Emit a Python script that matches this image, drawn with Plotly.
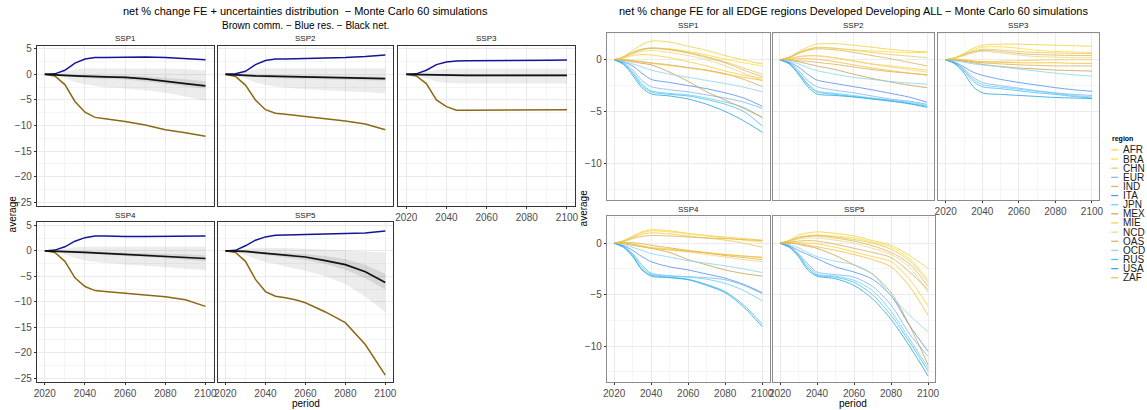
import plotly.graph_objects as go

# ---------------------------------------------------------------- data
W, H = 1147, 410

years_l = [2020, 2025, 2030, 2035, 2040, 2045, 2050, 2055, 2060, 2070, 2080, 2090, 2100]
scenarios = ["SSP1", "SSP2", "SSP3", "SSP4", "SSP5"]

# commercial (brown), residential (blue), net (black) % change in final energy
comm_ssp1 = [0, -0.3, -2.0, -5.3, -7.4, -8.4, -8.65, -8.9, -9.2, -9.9, -10.8, -11.4, -12.1]
res_ssp1 = [0, 0.1, 0.8, 2.2, 3.0, 3.3, 3.3, 3.35, 3.35, 3.4, 3.3, 3.1, 2.85]
net_ssp1 = [0, -0.05, -0.2, -0.3, -0.4, -0.45, -0.5, -0.55, -0.6, -0.9, -1.3, -1.8, -2.25]
outer_hi_ssp1 = [0, 0.1, 0.5, 1.0, 1.2, 1.2, 1.2, 1.2, 1.2, 1.2, 1.15, 1.0, 0.8]
outer_lo_ssp1 = [0, -0.2, -0.7, -1.5, -2.0, -2.3, -2.5, -2.6, -2.75, -3.1, -3.6, -4.3, -5.2]
inner_hi_ssp1 = [0, 0.0, -0.05, -0.1, -0.15, -0.15, -0.15, -0.2, -0.2, -0.35, -0.6, -0.95, -1.35]
inner_lo_ssp1 = [0, -0.1, -0.35, -0.55, -0.7, -0.8, -0.85, -0.95, -1.0, -1.4, -1.85, -2.35, -2.8]

comm_ssp2 = [0, -0.4, -2.1, -5.0, -6.9, -7.6, -7.8, -8.0, -8.2, -8.65, -9.1, -9.7, -10.8]
res_ssp2 = [0, 0.1, 0.6, 1.9, 2.7, 3.0, 3.0, 3.05, 3.05, 3.15, 3.3, 3.5, 3.8]
net_ssp2 = [0, -0.05, -0.2, -0.3, -0.35, -0.45, -0.5, -0.55, -0.6, -0.65, -0.7, -0.8, -0.85]
outer_hi_ssp2 = [0, 0.1, 0.5, 1.0, 1.2, 1.2, 1.2, 1.2, 1.2, 1.2, 1.2, 1.2, 1.2]
outer_lo_ssp2 = [0, -0.2, -0.8, -1.6, -2.1, -2.4, -2.6, -2.75, -2.9, -3.1, -3.3, -3.5, -3.7]
inner_hi_ssp2 = [0, 0.0, -0.05, -0.05, -0.1, -0.15, -0.15, -0.2, -0.2, -0.25, -0.3, -0.4, -0.45]
inner_lo_ssp2 = [0, -0.1, -0.35, -0.55, -0.65, -0.75, -0.8, -0.85, -0.9, -0.95, -1.05, -1.15, -1.25]

comm_ssp3 = [0, -0.3, -1.8, -5.0, -6.3, -7.0, -7.0, -7.0, -7.0, -7.0, -6.95, -6.95, -6.9]
res_ssp3 = [0, 0.1, 0.8, 1.9, 2.4, 2.6, 2.65, 2.65, 2.7, 2.7, 2.75, 2.75, 2.8]
net_ssp3 = [0, -0.05, -0.1, -0.15, -0.2, -0.2, -0.2, -0.2, -0.2, -0.2, -0.2, -0.2, -0.2]
outer_hi_ssp3 = [0, 0.1, 0.5, 0.9, 1.1, 1.1, 1.1, 1.1, 1.1, 1.1, 1.1, 1.1, 1.1]
outer_lo_ssp3 = [0, -0.2, -0.8, -1.4, -1.7, -1.8, -1.8, -1.8, -1.8, -1.8, -1.8, -1.8, -1.8]
inner_hi_ssp3 = [0, 0.0, 0.05, 0.05, 0.05, 0.05, 0.05, 0.05, 0.05, 0.05, 0.05, 0.05, 0.05]
inner_lo_ssp3 = [0, -0.1, -0.25, -0.35, -0.4, -0.4, -0.4, -0.4, -0.4, -0.4, -0.4, -0.4, -0.4]

comm_ssp4 = [0, -0.3, -2.05, -5.3, -7.0, -7.8, -8.0, -8.15, -8.3, -8.6, -9.0, -9.6, -10.9]
res_ssp4 = [0, 0.15, 0.8, 1.9, 2.6, 2.9, 2.9, 2.85, 2.85, 2.85, 2.85, 2.9, 2.9]
net_ssp4 = [0, -0.05, -0.1, -0.2, -0.3, -0.4, -0.5, -0.55, -0.65, -0.85, -1.0, -1.2, -1.5]
outer_hi_ssp4 = [0, 0.1, 0.4, 0.7, 0.8, 0.8, 0.8, 0.8, 0.8, 0.8, 0.8, 0.8, 0.8]
outer_lo_ssp4 = [0, -0.2, -0.7, -1.4, -1.9, -2.2, -2.4, -2.5, -2.7, -2.9, -3.2, -3.5, -3.8]
inner_hi_ssp4 = [0, 0.0, 0.0, -0.05, -0.1, -0.15, -0.2, -0.25, -0.3, -0.4, -0.5, -0.65, -0.85]
inner_lo_ssp4 = [0, -0.1, -0.3, -0.45, -0.55, -0.65, -0.75, -0.85, -0.95, -1.2, -1.45, -1.75, -2.1]

comm_ssp5 = [0, -0.3, -2.05, -5.6, -8.0, -8.9, -9.2, -9.6, -10.2, -12.0, -14.1, -18.4, -24.4]
res_ssp5 = [0, 0.1, 1.0, 2.1, 2.75, 3.05, 3.1, 3.15, 3.2, 3.3, 3.3, 3.5, 3.9]
net_ssp5 = [0, -0.05, -0.1, -0.3, -0.5, -0.7, -0.85, -1.0, -1.2, -1.9, -2.7, -4.1, -6.2]
outer_hi_ssp5 = [0, 0.1, 0.4, 0.6, 0.6, 0.6, 0.5, 0.5, 0.4, 0.3, 0.1, -0.1, -0.3]
outer_lo_ssp5 = [0, -0.2, -0.8, -1.6, -2.2, -2.6, -3.0, -3.4, -3.9, -5.0, -6.5, -9.0, -12.0]
inner_hi_ssp5 = [0, 0.0, 0.0, -0.1, -0.2, -0.3, -0.4, -0.5, -0.6, -1.0, -1.6, -2.7, -4.5]
inner_lo_ssp5 = [0, -0.1, -0.3, -0.55, -0.8, -1.05, -1.3, -1.5, -1.8, -2.6, -3.7, -5.4, -7.6]

comm = [comm_ssp1, comm_ssp2, comm_ssp3, comm_ssp4, comm_ssp5]
res = [res_ssp1, res_ssp2, res_ssp3, res_ssp4, res_ssp5]
net = [net_ssp1, net_ssp2, net_ssp3, net_ssp4, net_ssp5]
outer_hi = [outer_hi_ssp1, outer_hi_ssp2, outer_hi_ssp3, outer_hi_ssp4, outer_hi_ssp5]
outer_lo = [outer_lo_ssp1, outer_lo_ssp2, outer_lo_ssp3, outer_lo_ssp4, outer_lo_ssp5]
inner_hi = [inner_hi_ssp1, inner_hi_ssp2, inner_hi_ssp3, inner_hi_ssp4, inner_hi_ssp5]
inner_lo = [inner_lo_ssp1, inner_lo_ssp2, inner_lo_ssp3, inner_lo_ssp4, inner_lo_ssp5]

# regional net % change
years_r = [2020, 2025, 2030, 2035, 2040, 2050, 2060, 2070, 2080, 2090, 2100]
regions = ["AFR", "BRA", "CHN", "EUR", "IND", "ITA", "JPN", "MEX",
           "MIE", "NCD", "OAS", "OCD", "RUS", "USA", "ZAF"]
region_colors = ["#F7CF3C", "#FFDD33", "#EBC85E", "#7FB4F5", "#D9B757", "#4F8FF0",
                 "#5FD3F8", "#CDA04A", "#FFCF2E", "#F0D587", "#D8B055", "#86D6F2",
                 "#4CBCF0", "#22A5DC", "#F4BC3A"]

reg_ssp1 = {
    "AFR": [0, 0.3, 0.9, 1.45, 1.8, 1.7, 1.3, 0.9, 0.4, -0.05, -0.4],
    "BRA": [0, 0.2, 0.6, 0.95, 1.1, 1.05, 0.8, 0.45, 0.05, -0.3, -0.6],
    "CHN": [0, 0.25, 0.7, 1.0, 1.15, 1.0, 0.7, 0.3, -0.2, -0.8, -1.4],
    "EUR": [0, -0.3, -1.0, -2.0, -2.6, -2.9, -3.1, -3.4, -3.7, -4.1, -4.7],
    "IND": [0, 0.25, 0.7, 1.0, 1.1, 0.95, 0.65, 0.2, -0.3, -1.0, -1.65],
    "ITA": [0, -0.2, -0.6, -1.3, -1.9, -2.2, -2.5, -2.8, -3.2, -3.7, -4.5],
    "JPN": [0, -0.35, -1.2, -2.3, -3.0, -3.25, -3.4, -3.7, -4.1, -4.6, -5.6],
    "MEX": [0, -0.05, -0.2, -0.35, -0.5, -1.2, -2.1, -3.1, -3.9, -4.7, -5.55],
    "MIE": [0, 0.15, 0.4, 0.5, 0.45, 0.2, -0.2, -0.6, -1.1, -1.5, -1.8],
    "NCD": [0, 0.2, 0.55, 0.8, 0.9, 0.7, 0.4, 0.0, -0.6, -1.3, -2.0],
    "OAS": [0, 0.0, -0.1, -0.2, -0.3, -0.5, -0.75, -1.0, -1.35, -1.9, -2.6],
    "OCD": [0, -0.15, -0.4, -0.7, -1.0, -1.4, -1.7, -2.0, -2.3, -2.65, -3.1],
    "RUS": [0, -0.4, -1.3, -2.5, -3.1, -3.35, -3.5, -3.85, -4.3, -5.0, -6.4],
    "USA": [0, -0.45, -1.5, -2.7, -3.3, -3.5, -3.8, -4.3, -5.0, -5.9, -7.0],
    "ZAF": [0, 0.0, -0.1, -0.2, -0.35, -0.55, -0.8, -1.05, -1.4, -1.7, -2.0],
}
reg_ssp2 = {
    "AFR": [0, 0.25, 0.75, 1.2, 1.5, 1.55, 1.4, 1.2, 1.0, 0.85, 0.75],
    "BRA": [0, 0.2, 0.6, 0.95, 1.15, 1.1, 0.95, 0.85, 0.75, 0.7, 0.7],
    "CHN": [0, 0.25, 0.7, 1.0, 1.2, 1.1, 0.9, 0.7, 0.5, 0.35, 0.2],
    "EUR": [0, -0.3, -1.0, -2.0, -2.6, -2.95, -3.2, -3.5, -3.8, -4.0, -4.3],
    "IND": [0, 0.2, 0.6, 0.9, 1.05, 0.95, 0.7, 0.4, 0.1, -0.25, -0.6],
    "ITA": [0, -0.25, -0.7, -1.4, -1.95, -2.3, -2.6, -2.9, -3.25, -3.6, -4.1],
    "JPN": [0, -0.35, -1.2, -2.3, -3.0, -3.25, -3.45, -3.7, -3.9, -4.1, -4.4],
    "MEX": [0, -0.05, -0.2, -0.4, -0.6, -0.95, -1.4, -1.8, -2.15, -2.45, -2.7],
    "MIE": [0, 0.1, 0.3, 0.4, 0.4, 0.2, -0.1, -0.4, -0.6, -0.8, -1.0],
    "NCD": [0, 0.1, 0.25, 0.35, 0.35, 0.15, -0.15, -0.45, -0.7, -0.95, -1.2],
    "OAS": [0, 0.0, -0.1, -0.15, -0.25, -0.45, -0.7, -0.95, -1.15, -1.3, -1.45],
    "OCD": [0, -0.15, -0.4, -0.75, -1.05, -1.4, -1.7, -1.9, -2.1, -2.25, -2.35],
    "RUS": [0, -0.35, -1.25, -2.4, -3.1, -3.35, -3.55, -3.75, -3.95, -4.2, -4.5],
    "USA": [0, -0.4, -1.4, -2.6, -3.3, -3.45, -3.6, -3.8, -4.0, -4.25, -4.6],
    "ZAF": [0, 0.05, 0.1, 0.1, 0.05, -0.2, -0.5, -0.8, -1.05, -1.3, -1.5],
}
reg_ssp3 = {
    "AFR": [0, 0.2, 0.6, 1.1, 1.4, 1.5, 1.5, 1.45, 1.4, 1.35, 1.3],
    "BRA": [0, 0.2, 0.55, 0.95, 1.2, 1.25, 1.1, 0.9, 0.8, 0.75, 0.7],
    "CHN": [0, 0.15, 0.5, 0.8, 1.0, 0.95, 0.8, 0.7, 0.65, 0.6, 0.6],
    "EUR": [0, -0.3, -0.9, -1.7, -2.2, -2.5, -2.75, -3.0, -3.2, -3.35, -3.45],
    "IND": [0, 0.15, 0.45, 0.75, 0.9, 0.8, 0.6, 0.5, 0.45, 0.4, 0.4],
    "ITA": [0, -0.25, -0.7, -1.2, -1.5, -1.9, -2.2, -2.45, -2.7, -2.9, -3.05],
    "JPN": [0, -0.3, -1.0, -1.9, -2.4, -2.65, -2.85, -3.05, -3.25, -3.45, -3.6],
    "MEX": [0, -0.05, -0.15, -0.3, -0.45, -0.65, -0.8, -0.9, -1.0, -1.05, -1.1],
    "MIE": [0, 0.05, 0.0, -0.1, -0.2, -0.15, -0.1, -0.05, 0.0, 0.0, 0.0],
    "NCD": [0, 0.15, 0.4, 0.65, 0.8, 0.65, 0.45, 0.3, 0.25, 0.2, 0.2],
    "OAS": [0, 0.0, -0.1, -0.2, -0.3, -0.4, -0.5, -0.55, -0.6, -0.6, -0.6],
    "OCD": [0, -0.1, -0.25, -0.4, -0.5, -0.7, -0.9, -1.1, -1.3, -1.45, -1.6],
    "RUS": [0, -0.35, -1.1, -2.1, -2.6, -2.8, -3.0, -3.2, -3.35, -3.55, -3.7],
    "USA": [0, -0.4, -1.3, -2.6, -3.2, -3.35, -3.45, -3.55, -3.65, -3.7, -3.75],
    "ZAF": [0, 0.0, -0.05, -0.15, -0.2, -0.25, -0.3, -0.3, -0.3, -0.35, -0.35],
}
reg_ssp4 = {
    "AFR": [0, 0.25, 0.7, 1.1, 1.3, 1.2, 0.95, 0.75, 0.6, 0.45, 0.3],
    "BRA": [0, 0.2, 0.6, 1.0, 1.2, 1.1, 0.9, 0.7, 0.5, 0.3, 0.1],
    "CHN": [0, 0.2, 0.55, 0.85, 1.0, 0.9, 0.7, 0.5, 0.3, 0.0, -0.4],
    "EUR": [0, -0.3, -1.0, -2.1, -2.9, -3.15, -3.25, -3.35, -3.55, -4.1, -4.9],
    "IND": [0, 0.15, 0.45, 0.65, 0.75, 0.7, 0.6, 0.5, 0.45, 0.35, 0.25],
    "ITA": [0, -0.25, -0.7, -1.3, -1.8, -2.3, -2.6, -3.0, -3.4, -4.0, -4.8],
    "JPN": [0, -0.35, -1.1, -2.3, -3.0, -3.2, -3.3, -3.5, -3.9, -4.6, -5.6],
    "MEX": [0, -0.05, -0.2, -0.35, -0.5, -0.9, -1.6, -2.1, -2.6, -2.95, -3.2],
    "MIE": [0, 0.0, -0.1, -0.25, -0.4, -0.55, -0.75, -0.9, -1.1, -1.25, -1.35],
    "NCD": [0, 0.0, -0.15, -0.3, -0.45, -0.65, -0.85, -1.1, -1.35, -1.6, -1.8],
    "OAS": [0, 0.05, 0.05, -0.05, -0.2, -0.45, -0.7, -0.95, -1.2, -1.4, -1.6],
    "OCD": [0, -0.15, -0.4, -0.7, -1.0, -1.35, -1.7, -1.95, -2.2, -2.5, -2.85],
    "RUS": [0, -0.35, -1.2, -2.5, -3.1, -3.3, -3.5, -4.0, -4.7, -6.0, -7.85],
    "USA": [0, -0.4, -1.3, -2.6, -3.2, -3.35, -3.55, -4.1, -4.8, -6.2, -8.1],
    "ZAF": [0, 0.0, -0.1, -0.3, -0.5, -0.65, -0.8, -0.95, -1.1, -1.25, -1.4],
}
reg_ssp5 = {
    "AFR": [0, 0.3, 0.8, 1.0, 1.1, 0.95, 0.7, 0.25, -0.2, -1.2, -2.45],
    "BRA": [0, 0.25, 0.6, 0.75, 0.8, 0.7, 0.5, 0.1, -0.4, -1.5, -3.55],
    "CHN": [0, 0.2, 0.55, 0.7, 0.75, 0.6, 0.35, 0.0, -0.6, -1.7, -3.8],
    "EUR": [0, -0.3, -1.0, -2.0, -2.8, -3.05, -3.3, -4.2, -6.0, -8.8, -11.0],
    "IND": [0, 0.2, 0.5, 0.65, 0.7, 0.5, 0.2, -0.25, -0.9, -2.0, -4.2],
    "ITA": [0, -0.25, -0.7, -1.1, -1.5, -2.3, -2.8, -3.5, -5.1, -8.0, -10.5],
    "JPN": [0, -0.35, -1.1, -2.2, -3.0, -3.2, -3.6, -4.6, -6.6, -9.3, -12.1],
    "MEX": [0, 0.0, -0.1, -0.3, -0.5, -1.2, -2.1, -3.0, -4.8, -8.0, -11.8],
    "MIE": [0, 0.05, 0.05, 0.0, -0.05, -0.4, -0.85, -1.3, -1.8, -3.5, -6.1],
    "NCD": [0, 0.15, 0.4, 0.5, 0.5, 0.3, 0.0, -0.5, -1.1, -2.3, -4.8],
    "OAS": [0, 0.1, 0.2, 0.25, 0.2, -0.1, -0.5, -0.9, -1.4, -2.8, -4.5],
    "OCD": [0, -0.15, -0.45, -0.9, -1.3, -1.75, -2.1, -3.0, -5.1, -7.0, -8.6],
    "RUS": [0, -0.35, -1.2, -2.4, -3.1, -3.3, -3.8, -5.0, -7.0, -9.6, -12.4],
    "USA": [0, -0.4, -1.3, -2.6, -3.2, -3.45, -4.1, -5.4, -7.4, -10.0, -12.9],
    "ZAF": [0, 0.0, -0.05, -0.2, -0.35, -0.7, -1.1, -1.6, -2.3, -4.2, -7.0],
}
regional = [reg_ssp1, reg_ssp2, reg_ssp3, reg_ssp4, reg_ssp5]

left_title = "net % change FE + uncertainties distribution  \u2212 Monte Carlo 60 simulations"
left_subtitle = "Brown comm. \u2212 Blue res. \u2212 Black net."
right_title = "net % change FE for all EDGE regions Developed Developing ALL \u2212 Monte Carlo 60 simulations"

# ---------------------------------------------------------------- layout helpers
FONT = "Liberation Sans, Arial, sans-serif"


def fx(px):
    return px / W


def fy(py):
    return 1 - py / H


# panel boxes in pixels: (x0, x1, y0, y1)
left_boxes = [(33, 211, 44, 206), (215, 392, 44, 206), (397, 575, 44, 206),
              (33, 211, 222, 383), (215, 392, 222, 383)]
right_boxes = [(607, 771, 31, 199), (774, 937, 31, 199), (941, 1103, 31, 199),
               (607, 771, 216, 383), (774, 938, 216, 383)]

# which panels carry tick labels (facet_wrap style)
x_labels = [False, False, True, True, True]
y_labels = [True, False, False, True, False]

fig = go.Figure()
layout = dict(
    width=W, height=H, margin=dict(l=0, r=0, t=0, b=0),
    paper_bgcolor="white", plot_bgcolor="white", showlegend=False,
    font=dict(family=FONT, size=10, color="#4D4D4D"),
)


def add_axes(idx, box, yrange, border, show_x, show_y):
    x0, x1, y0, y1 = box
    tickfont = dict(family=FONT, size=10, color="#4D4D4D")
    layout[f"xaxis{idx}"] = dict(
        domain=[fx(x0), fx(x1)], range=[2016, 2104], anchor=f"y{idx}",
        tick0=2020, dtick=20, showgrid=True, gridcolor="#EBEBEB", gridwidth=1,
        minor=dict(dtick=10, tick0=2020, showgrid=True, gridcolor="#F5F5F5", gridwidth=0.6),
        showline=True, mirror=True, linecolor=border, linewidth=1, zeroline=False,
        ticks="outside" if show_x else "", ticklen=2, tickcolor="#333333",
        showticklabels=show_x, tickfont=tickfont, fixedrange=True,
    )
    layout[f"yaxis{idx}"] = dict(
        domain=[fy(y1), fy(y0)], range=yrange, anchor=f"x{idx}",
        tick0=0, dtick=5, showgrid=True, gridcolor="#EBEBEB", gridwidth=1,
        minor=dict(dtick=2.5, tick0=0, showgrid=True, gridcolor="#F5F5F5", gridwidth=0.6),
        showline=True, mirror=True, linecolor=border, linewidth=1, zeroline=False,
        ticks="outside" if show_y else "", ticklen=2, tickcolor="#333333",
        showticklabels=show_y, tickfont=tickfont, fixedrange=True,
    )


annotations = []
shapes = []


def strip(box, label):
    x0, x1, y0, _ = box
    annotations.append(dict(
        x=fx((x0 + x1) / 2), y=fy(y0 - 7), xref="paper", yref="paper",
        text=label, showarrow=False, xanchor="center", yanchor="middle",
        font=dict(family=FONT, size=8, color="#1A1A1A"),
    ))


# ---------------------------------------------------------------- left block: uncertainty fans
for i, ssp in enumerate(scenarios):
    idx = i + 1
    add_axes(idx, left_boxes[i], [-25.8, 5.6], "#333333", x_labels[i], y_labels[i])
    strip(left_boxes[i], ssp)
    xa, ya = f"x{idx}", f"y{idx}"
    common = dict(x=years_l, xaxis=xa, yaxis=ya, mode="lines", hoverinfo="skip")
    fig.add_trace(go.Scatter(y=outer_lo[i], line=dict(width=0, color="rgba(0,0,0,0)"), **common))
    fig.add_trace(go.Scatter(y=outer_hi[i], line=dict(width=0, color="rgba(0,0,0,0)"),
                             fill="tonexty", fillcolor="rgba(0,0,0,0.075)", **common))
    fig.add_trace(go.Scatter(y=inner_lo[i], line=dict(width=0, color="rgba(0,0,0,0)"), **common))
    fig.add_trace(go.Scatter(y=inner_hi[i], line=dict(width=0, color="rgba(0,0,0,0)"),
                             fill="tonexty", fillcolor="rgba(0,0,0,0.09)", **common))
    fig.add_trace(go.Scatter(y=comm[i], line=dict(width=1.5, color="#8B6914"), **common))
    fig.add_trace(go.Scatter(y=res[i], line=dict(width=1.5, color="#14149A"), **common))
    fig.add_trace(go.Scatter(y=net[i], line=dict(width=1.7, color="#111111"), **common))

# ---------------------------------------------------------------- right block: regional lines
for i, ssp in enumerate(scenarios):
    idx = i + 6
    add_axes(idx, right_boxes[i], [-13.5, 2.6], "#8C8C8C", x_labels[i], y_labels[i])
    strip(right_boxes[i], ssp)
    for reg, col in zip(regions, region_colors):
        fig.add_trace(go.Scatter(
            x=years_r, y=regional[i][reg], xaxis=f"x{idx}", yaxis=f"y{idx}",
            mode="lines", line=dict(width=1, color=col, shape="spline", smoothing=0.8),
            opacity=0.8, hoverinfo="skip", name=reg,
        ))

# ---------------------------------------------------------------- titles and axis titles
def text(px, py, s, size=10, color="#000000", angle=0, xanchor="center", bold=False):
    annotations.append(dict(
        x=fx(px), y=fy(py), xref="paper", yref="paper", text=f"<b>{s}</b>" if bold else s,
        showarrow=False, xanchor=xanchor, yanchor="middle", textangle=angle,
        font=dict(family=FONT, size=size, color=color),
    ))


text(304, 9, left_title, size=11)
text(304, 24, left_subtitle, size=10)
text(855, 9, right_title, size=11)
text(304, 404, "period", size=10)
text(855, 404, "period", size=10)
text(8, 213, "average", size=10, angle=-90)
text(584, 207, "average", size=10, angle=-90)

# legend for regions
text(1114, 138, "region", size=7, xanchor="left", bold=True)
for k, (reg, col) in enumerate(zip(regions, region_colors)):
    py = 149 + k * 9.2
    shapes.append(dict(type="line", xref="paper", yref="paper",
                       x0=fx(1115), x1=fx(1122), y0=fy(py), y1=fy(py),
                       line=dict(color=col, width=1.2)))
    text(1125, py, reg, size=10, color="#1A1A1A", xanchor="left")

layout["annotations"] = annotations
layout["shapes"] = shapes
fig.update_layout(**layout)
fig.write_html("out.html")
